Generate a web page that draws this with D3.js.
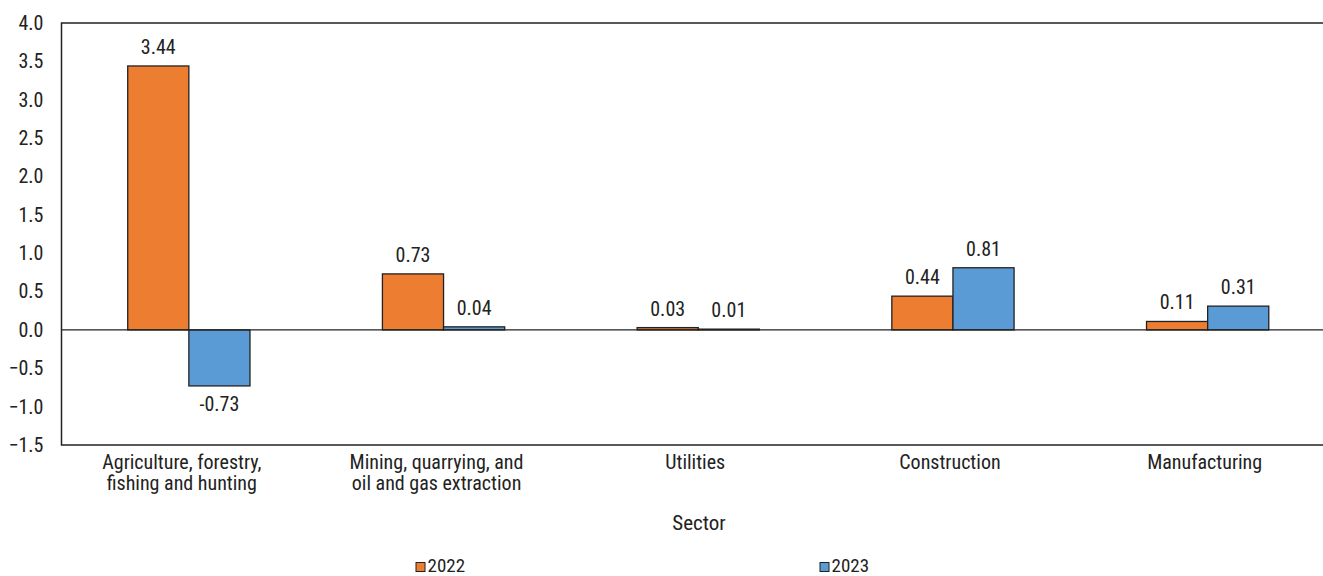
<!DOCTYPE html>
<html>
<head>
<meta charset="utf-8">
<script src="https://cdn.jsdelivr.net/npm/d3@7"></script>
<style>
  html, body { margin: 0; padding: 0; background: #fff; }
  svg text { font-family: "Roboto Condensed", "Liberation Sans Narrow", sans-serif; fill: #222; }
</style>
</head>
<body>
<svg id="chart" width="1323" height="576"></svg>
<script>
// Sector contributions by year
const sectors = [
  ["Agriculture, forestry,", "fishing and hunting"],
  ["Mining, quarrying, and", "oil and gas extraction"],
  ["Utilities"],
  ["Construction"],
  ["Manufacturing"]
];
const years = ["2022", "2023"];
const values2022 = [3.44, 0.73, 0.03, 0.44, 0.11];
const values2023 = [-0.73, 0.04, 0.01, 0.81, 0.31];
const yTicks = [4.0, 3.5, 3.0, 2.5, 2.0, 1.5, 1.0, 0.5, 0.0, -0.5, -1.0, -1.5];
const colors = ["#ED7D31", "#5B9BD5"];

const series = [values2022, values2023];
const svg = d3.select("#chart");

const margin = { left: 61.5, top: 23, bottom: 445 };
const plotRight = 1335;
const fs = 20;

const x0 = d3.scaleBand()
  .domain(d3.range(sectors.length))
  .range([margin.left, plotRight])
  .paddingInner(0.52)
  .paddingOuter(0.26);
const x1 = d3.scaleBand()
  .domain(years)
  .range([0, x0.bandwidth()]);
const y = d3.scaleLinear()
  .domain([-1.5, 4.0])
  .range([margin.bottom, margin.top]);

// Y axis labels
const yAxis = d3.axisLeft(y)
  .tickValues(yTicks)
  .tickFormat(d3.format(".1f"))
  .tickSize(0)
  .tickPadding(18);
svg.append("g")
  .attr("transform", `translate(${margin.left},0)`)
  .call(yAxis)
  .call(g => g.select(".domain").remove())
  .call(g => g.selectAll("text")
    .attr("font-size", fs)
    .attr("font-family", "Roboto Condensed")
    .attr("fill", "#222"));

// Bars
const groups = svg.append("g").selectAll("g")
  .data(sectors.map((s, i) => i))
  .join("g")
  .attr("transform", i => `translate(${x0(i)},0)`);

groups.selectAll("rect")
  .data(i => years.map((yr, k) => ({ yr, k, v: series[k][i] })))
  .join("rect")
  .attr("x", d => x1(d.yr))
  .attr("width", x1.bandwidth())
  .attr("y", d => y(Math.max(0, d.v)))
  .attr("height", d => Math.abs(y(d.v) - y(0)))
  .attr("fill", d => colors[d.k])
  .attr("stroke", "#222")
  .attr("stroke-width", 1.3);

// Value labels
groups.selectAll("text.val")
  .data(i => years.map((yr, k) => ({ yr, k, v: series[k][i] })))
  .join("text")
  .attr("class", "val")
  .attr("x", d => x1(d.yr) + x1.bandwidth() / 2)
  .attr("y", d => d.v >= 0 ? y(d.v) - 12 : y(d.v) + 25)
  .attr("text-anchor", "middle")
  .attr("font-size", fs)
  .text(d => d.v.toFixed(2));

// Zero line
svg.append("line")
  .attr("x1", margin.left).attr("x2", plotRight)
  .attr("y1", y(0)).attr("y2", y(0))
  .attr("stroke", "#222").attr("stroke-width", 1.2);

// Plot frame: left, top and bottom edges
svg.append("path")
  .attr("d", `M${plotRight},${margin.top}H${margin.left}V${margin.bottom}H${plotRight}`)
  .attr("fill", "none")
  .attr("stroke", "#222")
  .attr("stroke-width", 1.5);

// Category labels (wrapped lines sit slightly left of the group centre)
const labelX = i => x0(i) + x0.bandwidth() / 2 - (sectors[i].length > 1 ? 7 : 3);
const catLabels = svg.append("g").selectAll("text")
  .data(sectors.map((s, i) => ({ s, i })))
  .join("text")
  .attr("x", d => labelX(d.i))
  .attr("y", 469)
  .attr("text-anchor", "middle")
  .attr("font-size", fs);
catLabels.selectAll("tspan")
  .data(d => d.s.map((line, j) => ({ line, j, x: labelX(d.i) })))
  .join("tspan")
  .attr("x", d => d.x)
  .attr("dy", d => d.j === 0 ? 0 : 21)
  .text(d => d.line);

// Axis title
svg.append("text")
  .attr("x", 699)
  .attr("y", 530)
  .attr("text-anchor", "middle")
  .attr("font-size", 21)
  .text("Sector");

// Legend
const legendX = [416, 820];
const legend = svg.append("g").selectAll("g")
  .data(years.map((yr, k) => ({ yr, k })))
  .join("g")
  .attr("transform", d => `translate(${legendX[d.k]},562.5)`);
legend.append("rect")
  .attr("width", 9).attr("height", 9)
  .attr("fill", d => colors[d.k])
  .attr("stroke", "#222").attr("stroke-width", 1);
legend.append("text")
  .attr("x", 11.5).attr("y", 9.5)
  .attr("font-size", 19)
  .text(d => d.yr);
</script>
</body>
</html>
